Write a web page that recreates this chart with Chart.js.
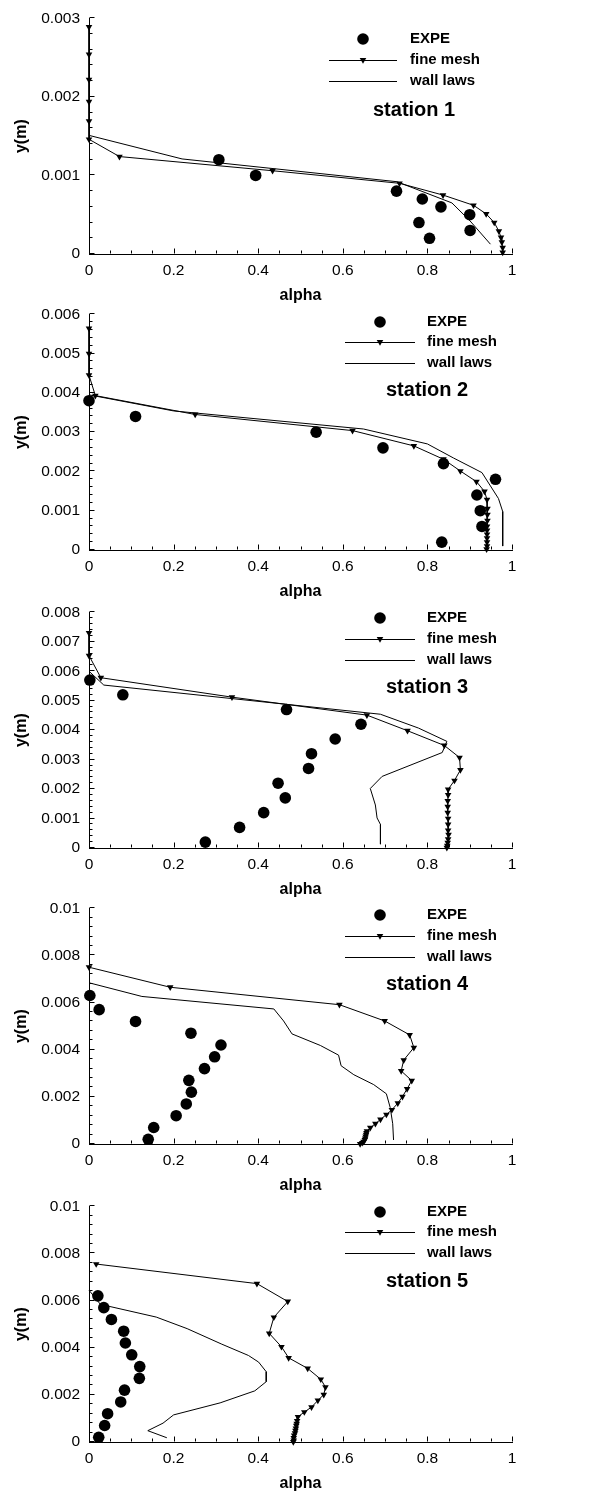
<!DOCTYPE html>
<html>
<head>
<meta charset="utf-8">
<script src="https://cdn.jsdelivr.net/npm/chart.js@4/dist/chart.umd.min.js"></script>
<style>
html, body { margin: 0; padding: 0; background: #fff; }
body { width: 595px; height: 1497px; position: relative; overflow: hidden; }
.panel { position: absolute; left: 0; width: 595px; height: 310px; }
</style>
</head>
<body>
<div class="panel" style="top:0px"><canvas id="c1" width="595" height="310"></canvas></div>
<div class="panel" style="top:296px"><canvas id="c2" width="595" height="310"></canvas></div>
<div class="panel" style="top:594px"><canvas id="c3" width="595" height="310"></canvas></div>
<div class="panel" style="top:890px"><canvas id="c4" width="595" height="310"></canvas></div>
<div class="panel" style="top:1188px"><canvas id="c5" width="595" height="310"></canvas></div>
<script>
// ── data: [alpha, y(m)] ──
const st1Expe = [[0.307,0.0012],[0.394,0.0010],[0.727,0.0008],[0.788,0.0007],[0.832,0.0006],[0.900,0.0005],[0.780,0.0004],[0.901,0.0003],[0.805,0.0002]];
const st1Fine = [[0,0.00289],[0,0.00254],[0,0.00222],[0,0.00194],[0,0.00169],[0,0.00146],[0.072,0.00124],[0.434,0.00106],[0.734,0.0009],[0.837,0.00075],[0.909,0.00062],[0.939,0.00051],[0.958,0.0004],[0.969,0.00029],[0.974,0.00021],[0.976,0.00015],[0.978,0.00008],[0.978,0.00002]];
const st1Wall = [[0,0.00151],[0.22,0.00121],[0.728,0.00092],[0.858,0.00065],[0.901,0.00042],[0.949,0.000125]];

const st2Expe = [[0,0.0038],[0.110,0.0034],[0.537,0.0030],[0.695,0.0026],[0.838,0.0022],[0.961,0.0018],[0.917,0.0014],[0.925,0.0010],[0.929,0.0006],[0.834,0.0002]];
const st2Fine = [[0,0.00564],[0,0.0050],[0,0.00445],[0.015,0.00393],[0.251,0.00345],[0.623,0.00304],[0.768,0.00265],[0.838,0.00231],[0.878,0.00201],[0.916,0.00174],[0.935,0.00149],[0.941,0.00128],[0.942,0.00105],[0.942,0.0009],[0.942,0.00075],[0.941,0.0006],[0.941,0.0005],[0.941,0.0004],[0.941,0.0003],[0.941,0.0002],[0.941,0.0001],[0.940,0.00002]];
const st2Wall = [[0,0.00395],[0.2,0.00354],[0.649,0.00308],[0.80,0.0027],[0.862,0.00234],[0.929,0.00197],[0.968,0.00131],[0.978,0.00098],[0.978,0.0001]];

const st3Expe = [[0.002,0.0057],[0.080,0.0052],[0.467,0.0047],[0.643,0.0042],[0.582,0.0037],[0.526,0.0032],[0.519,0.0027],[0.447,0.0022],[0.464,0.0017],[0.413,0.0012],[0.356,0.0007],[0.275,0.0002]];
const st3Fine = [[0,0.0073],[0,0.00653],[0.028,0.00578],[0.338,0.00512],[0.657,0.00451],[0.753,0.00398],[0.840,0.00348],[0.876,0.00307],[0.878,0.00265],[0.864,0.00229],[0.849,0.00199],[0.849,0.0018],[0.848,0.0016],[0.848,0.0014],[0.848,0.0012],[0.849,0.001],[0.849,0.0008],[0.849,0.0006],[0.850,0.00045],[0.849,0.0003],[0.848,0.00018],[0.847,0.00008],[0.846,0.00001]];
const st3Wall = [[0,0.006],[0.035,0.00553],[0.689,0.00454],[0.779,0.00407],[0.846,0.00362],[0.835,0.00324],[0.693,0.00243],[0.665,0.00202],[0.677,0.00146],[0.681,0.00102],[0.689,0.0008],[0.689,0.00013]];

const st4Expe = [[0.002,0.0063],[0.024,0.0057],[0.110,0.0052],[0.241,0.0047],[0.312,0.0042],[0.297,0.0037],[0.273,0.0032],[0.236,0.0027],[0.242,0.0022],[0.230,0.0017],[0.206,0.0012],[0.153,0.0007],[0.140,0.0002]];
const st4Fine = [[0,0.0075],[0.192,0.00665],[0.592,0.00591],[0.699,0.00522],[0.758,0.00463],[0.768,0.00409],[0.744,0.00356],[0.738,0.0031],[0.763,0.00269],[0.752,0.00234],[0.741,0.00201],[0.730,0.00173],[0.716,0.00145],[0.703,0.00125],[0.689,0.00104],[0.677,0.00086],[0.665,0.00069],[0.657,0.00055],[0.656,0.00047],[0.655,0.0004],[0.654,0.00032],[0.653,0.00024],[0.652,0.00017],[0.649,0.0001],[0.646,0.00005],[0.641,0]];
const st4Wall = [[0,0.00684],[0.125,0.00626],[0.437,0.00573],[0.46,0.00522],[0.48,0.00467],[0.547,0.00418],[0.59,0.00377],[0.596,0.00332],[0.626,0.00294],[0.673,0.00252],[0.703,0.00213],[0.712,0.00155],[0.718,0.00086],[0.72,0.00017]];

const st5Expe = [[0.021,0.0062],[0.035,0.0057],[0.053,0.0052],[0.082,0.0047],[0.086,0.0042],[0.101,0.0037],[0.120,0.0032],[0.119,0.0027],[0.084,0.0022],[0.075,0.0017],[0.044,0.0012],[0.037,0.0007],[0.023,0.0002]];
const st5Fine = [[0.017,0.00755],[0.397,0.00672],[0.470,0.00596],[0.437,0.00529],[0.426,0.00461],[0.455,0.00404],[0.472,0.00357],[0.517,0.00312],[0.548,0.00266],[0.559,0.00233],[0.555,0.00201],[0.541,0.00176],[0.526,0.00148],[0.509,0.00127],[0.494,0.00107],[0.492,0.0009],[0.491,0.00078],[0.490,0.00069],[0.489,0.00058],[0.488,0.00048],[0.487,0.00038],[0.485,0.00028],[0.484,0.00017],[0.484,0.00007],[0.483,0]];
const st5Wall = [[0,0.00644],[0.027,0.00584],[0.159,0.0053],[0.232,0.00481],[0.314,0.00415],[0.377,0.00367],[0.401,0.00339],[0.419,0.00298],[0.419,0.00256],[0.392,0.00217],[0.31,0.00166],[0.2,0.00115],[0.175,0.0008],[0.139,0.00048],[0.184,0.00018]];

// ── ticks ──
const xTicks = [0, 0.2, 0.4, 0.6, 0.8, 1];
const xTickLabels = ['0', '0.2', '0.4', '0.6', '0.8', '1'];
const yTicks1 = [0, 0.001, 0.002, 0.003];
const yTickLabels1 = ['0', '0.001', '0.002', '0.003'];
const yTicks2 = [0, 0.001, 0.002, 0.003, 0.004, 0.005, 0.006];
const yTickLabels2 = ['0', '0.001', '0.002', '0.003', '0.004', '0.005', '0.006'];
const yTicks3 = [0, 0.001, 0.002, 0.003, 0.004, 0.005, 0.006, 0.007, 0.008];
const yTickLabels3 = ['0', '0.001', '0.002', '0.003', '0.004', '0.005', '0.006', '0.007', '0.008'];
const yTicks45 = [0, 0.002, 0.004, 0.006, 0.008, 0.01];
const yTickLabels45 = ['0', '0.002', '0.004', '0.006', '0.008', '0.01'];

const seriesNames = ['EXPE', 'fine mesh', 'wall laws'];
const stationNames = ['station 1', 'station 2', 'station 3', 'station 4', 'station 5'];

const FONT = '"Liberation Sans", Arial, Helvetica, sans-serif';
Chart.defaults.font.family = FONT;
Chart.defaults.color = '#000';

const panels = [
    { id: 'c1', expe: st1Expe, fine: st1Fine, wall: st1Wall, yMax: 0.003, yTicks: yTicks1, yLabels: yTickLabels1, yMinor: 0.0002, station: stationNames[0],
      lg: { cx: 363, tx: 410, lx0: 329, lx1: 397, rows: [39, 60, 81], sx: 373, sy: 110 } },
    { id: 'c2', expe: st2Expe, fine: st2Fine, wall: st2Wall, yMax: 0.006, yTicks: yTicks2, yLabels: yTickLabels2, yMinor: 0.0002, station: stationNames[1],
      lg: { cx: 380, tx: 427, lx0: 345, lx1: 415, rows: [26, 46, 67], sx: 386, sy: 94 } },
    { id: 'c3', expe: st3Expe, fine: st3Fine, wall: st3Wall, yMax: 0.008, yTicks: yTicks3, yLabels: yTickLabels3, yMinor: 0.0002, station: stationNames[2],
      lg: { cx: 380, tx: 427, lx0: 345, lx1: 415, rows: [24, 45, 66], sx: 386, sy: 93 } },
    { id: 'c4', expe: st4Expe, fine: st4Fine, wall: st4Wall, yMax: 0.01, yTicks: yTicks45, yLabels: yTickLabels45, yMinor: 0.0004, station: stationNames[3],
      lg: { cx: 380, tx: 427, lx0: 345, lx1: 415, rows: [25, 46, 67], sx: 386, sy: 94 } },
    { id: 'c5', expe: st5Expe, fine: st5Fine, wall: st5Wall, yMax: 0.01, yTicks: yTicks45, yLabels: yTickLabels45, yMinor: 0.0004, station: stationNames[4],
      lg: { cx: 380, tx: 427, lx0: 345, lx1: 415, rows: [24, 44, 65], sx: 386, sy: 93 } }
];

const toXY = arr => arr.map(([a, y]) => ({ x: a, y: y }));

function downTriangle(ctx, x, y, r) {
    ctx.beginPath();
    ctx.moveTo(x, y + r);
    ctx.lineTo(x - r * 0.866, y - r * 0.5);
    ctx.lineTo(x + r * 0.866, y - r * 0.5);
    ctx.closePath();
    ctx.fill();
}

// inward tick marks, axis titles, legend and station label
const decor = {
    id: 'decor',
    afterDraw(chart) {
        const p = chart.options.plugins.decor;
        const { ctx, scales: { x, y }, chartArea } = chart;
        const x0 = Math.round(chartArea.left) + 0.5;
        const y0 = Math.round(chartArea.bottom) - 0.5;
        ctx.save();
        ctx.strokeStyle = '#000';
        ctx.fillStyle = '#000';
        ctx.lineWidth = 1;
        ctx.beginPath();
        for (let i = 0; i <= 20; i++) {
            const px = Math.round(x.getPixelForValue(i * 0.05)) + 0.5;
            const len = i % 4 === 0 ? 5 : 3;
            ctx.moveTo(px, y0); ctx.lineTo(px, y0 - len);
        }
        const nMinor = Math.round(p.yMax / p.yMinor);
        const perMajor = Math.round((p.yTicks[1] - p.yTicks[0]) / p.yMinor);
        for (let i = 0; i <= nMinor; i++) {
            const py = Math.round(y.getPixelForValue(i * p.yMinor)) - 0.5;
            const len = i % perMajor === 0 ? 5 : 3;
            ctx.moveTo(x0, py); ctx.lineTo(x0 + len, py);
        }
        ctx.stroke();

        // axis titles
        ctx.font = 'bold 16px ' + FONT;
        ctx.textAlign = 'center';
        ctx.textBaseline = 'middle';
        ctx.fillText('alpha', (chartArea.left + chartArea.right) / 2, 296);
        ctx.save();
        ctx.translate(22, (chartArea.top + chartArea.bottom) / 2);
        ctx.rotate(-Math.PI / 2);
        ctx.fillText('y(m)', 0, 0);
        ctx.restore();

        // legend
        const lg = p.lg;
        ctx.beginPath();
        ctx.arc(lg.cx, lg.rows[0], 5.8, 0, Math.PI * 2);
        ctx.fill();
        ctx.beginPath();
        ctx.moveTo(lg.lx0, lg.rows[1] + 0.5); ctx.lineTo(lg.lx1, lg.rows[1] + 0.5);
        ctx.moveTo(lg.lx0, lg.rows[2] + 0.5); ctx.lineTo(lg.lx1, lg.rows[2] + 0.5);
        ctx.stroke();
        downTriangle(ctx, (lg.lx0 + lg.lx1) / 2, lg.rows[1], 3.8);
        ctx.font = 'bold 15px ' + FONT;
        ctx.textAlign = 'left';
        seriesNames.forEach((n, i) => ctx.fillText(n, lg.tx, lg.rows[i]));
        ctx.font = 'bold 20px ' + FONT;
        ctx.fillText(p.station, lg.sx, lg.sy);
        ctx.restore();
    }
};

function makeChart(p) {
    const tickFont = { size: 15.5, family: FONT };
    return new Chart(document.getElementById(p.id), {
        type: 'scatter',
        data: {
            datasets: [
                {
                    label: seriesNames[0], data: toXY(p.expe), showLine: false,
                    pointStyle: 'circle', pointRadius: 5.8, pointHoverRadius: 5.8,
                    pointBackgroundColor: '#000', pointBorderColor: '#000', pointBorderWidth: 0,
                    clip: false
                },
                {
                    label: seriesNames[1], data: toXY(p.fine), showLine: true,
                    borderColor: '#000', borderWidth: 1, tension: 0,
                    pointStyle: 'triangle', pointRotation: 180, pointRadius: 3.8, pointHoverRadius: 3.8,
                    pointBackgroundColor: '#000', pointBorderColor: '#000', pointBorderWidth: 0,
                    clip: false
                },
                {
                    label: seriesNames[2], data: toXY(p.wall), showLine: true,
                    borderColor: '#000', borderWidth: 1, tension: 0,
                    pointRadius: 0, pointHoverRadius: 0,
                    clip: false
                }
            ]
        },
        options: {
            responsive: false,
            animation: false,
            events: [],
            layout: { padding: { top: 13, right: 83, left: 0, bottom: 0 } },
            plugins: {
                legend: { display: false },
                tooltip: { enabled: false },
                decor: { yMax: p.yMax, yMinor: p.yMinor, yTicks: p.yTicks, lg: p.lg, station: p.station }
            },
            scales: {
                x: {
                    type: 'linear', min: 0, max: 1,
                    afterFit: s => { s.height = 56; },
                    afterBuildTicks: s => { s.ticks = xTicks.map(v => ({ value: v })); },
                    ticks: { callback: (v, i) => xTickLabels[i], font: tickFont, color: '#000', padding: 7, maxRotation: 0, autoSkip: false },
                    grid: { display: false, drawTicks: false },
                    border: { display: true, color: '#000', width: 1 }
                },
                y: {
                    type: 'linear', min: 0, max: p.yMax,
                    afterFit: s => { s.width = 89; },
                    afterBuildTicks: s => { s.ticks = p.yTicks.map(v => ({ value: v })); },
                    ticks: { callback: (v, i) => p.yLabels[i], font: tickFont, color: '#000', padding: 9, autoSkip: false },
                    grid: { display: false, drawTicks: false },
                    border: { display: true, color: '#000', width: 1 }
                }
            }
        },
        plugins: [decor]
    });
}

panels.forEach(makeChart);
</script>
</body>
</html>
